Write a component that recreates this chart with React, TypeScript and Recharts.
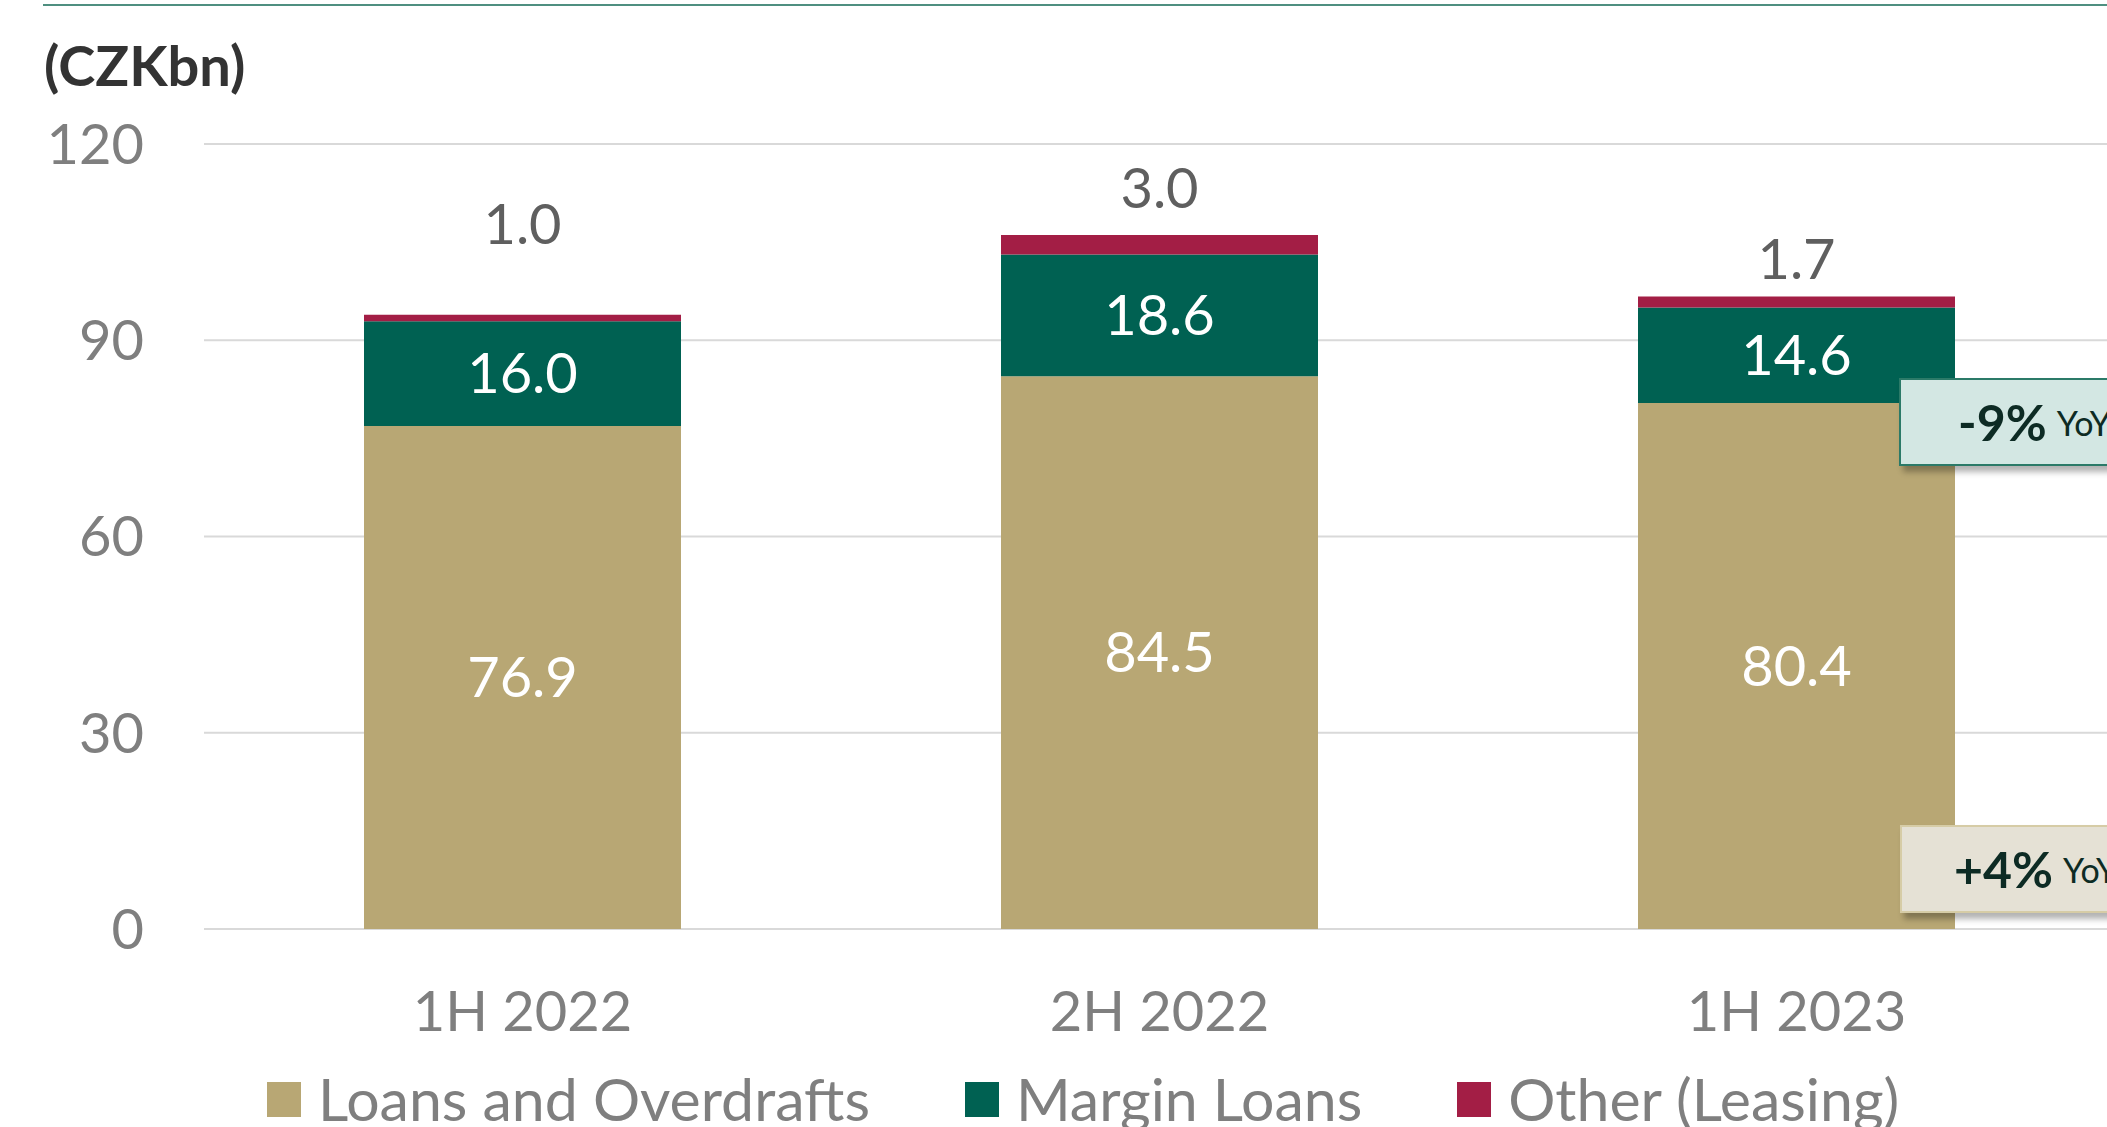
import React from 'react';
import { BarChart, Bar, XAxis, YAxis, CartesianGrid, LabelList, Legend } from 'recharts';

const periods = ['1H 2022', '2H 2022', '1H 2023'];
const loansAndOverdrafts = [76.9, 84.5, 80.4];
const marginLoans = [16.0, 18.6, 14.6];
const otherLeasing = [1.0, 3.0, 1.7];
const yTicks = [0, 30, 60, 90, 120];

const data = periods.map((period, i) => ({
  period,
  loans: loansAndOverdrafts[i],
  margin: marginLoans[i],
  other: otherLeasing[i],
}));

// label nudges for the "Other" totals (hand placed in the original)
const otherLabelLift = [92, 48, 39];

const FONT = 'Lato, "Open Sans", sans-serif';
const GREY = '#7f7f7f';

const OtherLabel = (props: any) => {
  const { x, y, width, value, index } = props;
  const i = typeof index === 'number' ? index : Math.round((Number(x) - 204) / 637);
  return (
    <text
      x={Number(x) + Number(width) / 2}
      y={Number(y) - (otherLabelLift[i] ?? 45)}
      textAnchor="middle"
      dominantBaseline="central"
      fill="#5f5f5f"
      fontSize={56}
      fontFamily={FONT}
    >
      {Number(value).toFixed(1)}
    </text>
  );
};

const LegendContent = (props: any) => {
  const items = props.payload || [];
  return (
    <div style={{ display: 'flex', alignItems: 'center', fontFamily: FONT, fontSize: 59, color: GREY, lineHeight: '58px', whiteSpace: 'nowrap' }}>
      {items.map((it: any, i: number) => (
        <div key={i} style={{ display: 'flex', alignItems: 'center', marginRight: 95 }}>
          <span style={{ width: 34, height: 35, background: it.color, display: 'inline-block', marginRight: 17 }} />
          <span>{it.value}</span>
        </div>
      ))}
    </div>
  );
};

export default function App() {
  return (
    <div style={{ position: 'fixed', left: 0, top: 0, width: 2107, height: 1127, overflow: 'hidden', background: '#fff', fontFamily: FONT }}>
      <div style={{ position: 'absolute', left: 43, top: 4, width: 2064, height: 2, background: '#4f8f80' }} />
      <div style={{ position: 'absolute', left: 44, top: 32, fontSize: 56, fontWeight: 700, color: '#333', lineHeight: '66px' }}>(CZKbn)</div>
      <BarChart
        width={2115}
        height={1127}
        data={data}
        margin={{ top: 144, right: 0, left: 0, bottom: 0 }}
        barSize={317}
      >
        <CartesianGrid vertical={false} stroke="#d9d9d9" strokeWidth={2} />
        <XAxis
          dataKey="period"
          axisLine={false}
          tickLine={false}
          tickSize={0}
          tickMargin={62}
          height={198}
          tick={{ fill: GREY, fontSize: 56, fontFamily: FONT }}
        />
        <YAxis
          domain={[0, 120]}
          ticks={yTicks}
          axisLine={false}
          tickLine={false}
          tickSize={0}
          tickMargin={60}
          width={204}
          tick={{ fill: GREY, fontSize: 56, fontFamily: FONT }}
        />
        <Legend
          layout="horizontal"
          verticalAlign="middle"
          align="center"
          wrapperStyle={{ left: 267, top: 1070, width: 1800 }}
          content={<LegendContent />}
        />
        <Bar dataKey="loans" name="Loans and Overdrafts" stackId="a" fill="#b8a774" isAnimationActive={false}>
          <LabelList dataKey="loans" position="center" fill="#fff" fontSize={56} fontFamily={FONT} formatter={(v: any) => Number(v).toFixed(1)} />
        </Bar>
        <Bar dataKey="margin" name="Margin Loans" stackId="a" fill="#006152" isAnimationActive={false}>
          <LabelList dataKey="margin" position="center" fill="#fff" fontSize={56} fontFamily={FONT} formatter={(v: any) => Number(v).toFixed(1)} />
        </Bar>
        <Bar dataKey="other" name="Other (Leasing)" stackId="a" fill="#a31e45" isAnimationActive={false}>
          <LabelList dataKey="other" content={<OtherLabel />} />
        </Bar>
      </BarChart>
      <div style={{ position: 'absolute', left: 1899, top: 378, width: 260, height: 88, background: '#d3e7e3', border: '2px solid #2b7a68', boxShadow: '4px 6px 6px rgba(0,0,0,0.3)', display: 'flex', alignItems: 'center', paddingLeft: 57, boxSizing: 'border-box', color: '#0d2b24' }}>
        <span style={{ fontSize: 50, fontWeight: 700 }}>-9%</span>
        <span style={{ fontSize: 34, marginLeft: 10 }}>YoY</span>
      </div>
      <div style={{ position: 'absolute', left: 1900, top: 825, width: 260, height: 88, background: '#e5e1d5', border: '2px solid #d6cca6', boxShadow: '4px 6px 6px rgba(0,0,0,0.3)', display: 'flex', alignItems: 'center', paddingLeft: 52, boxSizing: 'border-box', color: '#0d2b24' }}>
        <span style={{ fontSize: 50, fontWeight: 700 }}>+4%</span>
        <span style={{ fontSize: 34, marginLeft: 10 }}>YoY</span>
      </div>
    </div>
  );
}
